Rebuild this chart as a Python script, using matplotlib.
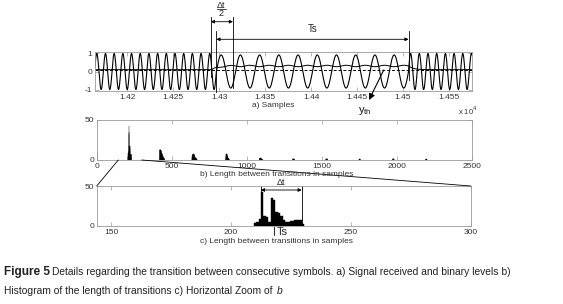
import numpy as np
import matplotlib
matplotlib.use('Agg')
import matplotlib.pyplot as plt
from matplotlib.lines import Line2D
from matplotlib.patches import ConnectionPatch
from matplotlib.transforms import blended_transform_factory
import matplotlib.ticker as mticker

W, H, DPI = 563, 304, 100
plt.rcParams['font.family'] = ['Liberation Sans', 'DejaVu Sans']

# ---------------- data ----------------
# a) received FSK signal: segments (start sample, end sample, period in samples, amplitude)
seg_start = [14165, 14297, 14506]
seg_end = [14297, 14506, 14580]
seg_period = [9.45, 20.9, 9.45]
seg_amp = [0.98, 0.9, 0.98]
# binary level curve
level_low = 0.10
level_high = 0.30
level_ripple = 0.04
level_rise_start = 14292
rise_tau = 6.0
fall_tau = 5.0
y_th = 0.10
a_xlim = [14165, 14575]
a_xticks = [14200, 14250, 14300, 14350, 14400, 14450, 14500, 14550]
a_xticklabels = ['1.42', '1.425', '1.43', '1.435', '1.44', '1.445', '1.45', '1.455']
a_yticks = [-1, 0, 1]
ts_marks = [14297, 14506]
dt_half_marks = [14291, 14315]

# c) zoomed histogram: lengths 210..230
c_lengths = [210, 211, 212, 213, 214, 215, 216, 217, 218, 219, 220,
             221, 222, 223, 224, 225, 226, 227, 228, 229, 230]
c_counts = [4, 5, 9, 43, 12, 11, 5, 35, 32, 18, 16,
            12, 8, 5, 5, 6, 6, 7, 7, 8, 3]
c_xticks = [150, 200, 250, 300]
c_xlim = [144, 300]
c_dt = [212.5, 229.5]
c_ts = 218

# b) full histogram groups (first sample, counts per sample)
b_grp0_start, b_grp0 = 1, [9, 5, 2]
b_grp2_start, b_grp2 = 420, [3, 12, 14, 13, 13, 12, 12, 11, 11, 10, 10, 9, 9, 8, 8, 7,
                             7, 6, 6, 5, 5, 4, 4, 3, 3, 3, 2, 2, 2, 1, 1]
b_grp3_start, b_grp3 = 638, [2, 5, 6, 6, 7, 7, 8, 8, 7, 7, 6, 6, 5, 5, 4, 4, 4, 3, 3, 3,
                             2, 2, 2, 2, 1, 1, 1, 1]
b_grp4_start, b_grp4 = 862, [2, 4, 6, 7, 7, 6, 6, 5, 5, 4, 4, 3, 3, 2, 2, 2, 1, 1, 1, 1]
b_grp5_start, b_grp5 = 1086, [1, 2, 2, 3, 3, 2, 2, 2, 2, 1, 1, 1, 1, 1, 1, 1, 1, 1]
b_grp6_start, b_grp6 = 1308, [1, 1, 2, 1, 1, 1, 1, 1, 1, 1]
b_grp7_start, b_grp7 = 1530, [1, 1, 1, 2, 1, 1, 1, 1]
b_grp8_start, b_grp8 = 1752, [1, 1, 1, 1]
b_grp9_start, b_grp9 = 1975, [1, 1, 2, 1, 1, 1]
b_grp10_start, b_grp10 = 2195, [1, 1, 1, 1, 1]
b_xticks = [0, 500, 1000, 1500, 2000, 2500]

# ---------------- figure ----------------
fig = plt.figure(figsize=(W / DPI, H / DPI), dpi=DPI)

def rect(l, t, r, b):
    return [l / W, 1 - b / H, (r - l) / W, (b - t) / H]

def fy(y):
    return 1 - y / H

ax_a = fig.add_axes(rect(95, 52, 472, 91))
ax_b = fig.add_axes(rect(96.7, 120, 471.7, 160))
ax_c = fig.add_axes(rect(96.7, 186, 470.7, 226))

SP = '#9a9a9a'
for ax in (ax_a, ax_b, ax_c):
    for s in ax.spines.values():
        s.set_color(SP)
        s.set_linewidth(0.6)
    ax.tick_params(direction='in', top=True, right=True, length=3, width=0.5,
                   color=SP, labelsize=6, labelcolor='#333333', pad=2)

# ---- a) signal ----
dt = 0.2
t = np.arange(a_xlim[0], a_xlim[1] + dt, dt)
freq = np.zeros_like(t)
amp = np.zeros_like(t)
for s, e, p, a in zip(seg_start, seg_end, seg_period, seg_amp):
    m = (t >= s) & (t < e + dt)
    freq[m] = 1.0 / p
    amp[m] = a
phase = 2 * np.pi * np.cumsum(freq) * dt
phase -= phase[np.argmin(np.abs(t - seg_start[1]))]
signal = amp * np.sin(phase)

t1, t2 = level_rise_start, seg_start[2]
level = np.full_like(t, level_low)
m = (t >= t1) & (t < t2)
g = 1 - np.exp(-(t[m] - t1) / rise_tau)
level[m] = level_low + g * (level_high - level_low - level_ripple * np.sin(phase[m]))
lv2 = level[m][-1]
m2 = t >= t2
level[m2] = level_low + (lv2 - level_low) * np.exp(-(t[m2] - t2) / fall_tau)

ax_a.plot(t, signal, color='k', lw=0.8)
ax_a.plot(t, level, color='k', lw=0.7)
ax_a.axhline(y_th, color='k', lw=0.7, ls=(0, (3, 2)))
ax_a.set_xlim(a_xlim)
ax_a.set_ylim(-1.06, 1.06)
ax_a.set_xticks(a_xticks)
ax_a.set_xticklabels(a_xticklabels)
ax_a.set_yticks(a_yticks)
ax_a.set_yticklabels(['-1', '0', '1'])

bt = blended_transform_factory(ax_a.transData, fig.transFigure)
LW = 0.6
fig.add_artist(Line2D([dt_half_marks[0]] * 2, [fy(17), fy(77)], transform=bt, color='k', lw=LW))
fig.add_artist(Line2D([dt_half_marks[1]] * 2, [fy(17), fy(88)], transform=bt, color='k', lw=LW))
fig.add_artist(Line2D([ts_marks[0]] * 2, [fy(31), fy(92)], transform=bt, color='k', lw=LW))
fig.add_artist(Line2D([ts_marks[1]] * 2, [fy(31), fy(80)], transform=bt, color='k', lw=LW))
ax_a.annotate('', xy=(ts_marks[1], fy(39.3)), xytext=(ts_marks[0], fy(39.3)),
              xycoords=bt, textcoords=bt, annotation_clip=False,
              arrowprops=dict(arrowstyle='<|-|>', lw=LW, color='k', mutation_scale=5,
                              shrinkA=0, shrinkB=0))
ax_a.annotate('', xy=(dt_half_marks[1], fy(21.7)), xytext=(dt_half_marks[0], fy(21.7)),
              xycoords=bt, textcoords=bt, annotation_clip=False,
              arrowprops=dict(arrowstyle='<|-|>', lw=LW, color='k', mutation_scale=5,
                              shrinkA=0, shrinkB=0))
xc = (dt_half_marks[0] + dt_half_marks[1]) / 2 - 0.5
fig.text(0, fy(5), '\u0394t', transform=bt, fontsize=6.5, ha='center', va='center',
         color='#222222').set_x(xc)
fig.add_artist(Line2D([xc - 4.5, xc + 4.5], [fy(9.2), fy(9.2)], transform=bt, color='k', lw=0.5))
fig.text(0, fy(13.5), '2', transform=bt, fontsize=6.5, ha='center', va='center',
         color='#222222').set_x(xc)
fig.text(0, fy(29.3), 'Ts', transform=bt, fontsize=7, ha='center', va='center',
         color='#222222').set_x((ts_marks[0] + ts_marks[1]) / 2)
# y_th arrow
ax_a.annotate('', xy=(14463, fy(100)), xytext=(14479, fy(70)),
              xycoords=bt, textcoords=bt, annotation_clip=False,
              arrowprops=dict(arrowstyle='-|>', lw=0.8, color='k', mutation_scale=9,
                              shrinkA=0, shrinkB=0))
fig.text(365 / W, fy(111), r'$\mathregular{y_{th}}$', fontsize=8, ha='center', va='center',
         color='#111111')
fig.text(468 / W, fy(111), r'x 10$^{4}$', fontsize=5.5, ha='center', va='center',
         color='#333333')
fig.text(273 / W, fy(105.5), 'a) Samples', fontsize=6, ha='center', va='center',
         color='#333333')

# ---- b) histogram ----
b_groups = [(b_grp0_start, b_grp0), (c_lengths[0], c_counts), (b_grp2_start, b_grp2),
            (b_grp3_start, b_grp3), (b_grp4_start, b_grp4), (b_grp5_start, b_grp5),
            (b_grp6_start, b_grp6), (b_grp7_start, b_grp7), (b_grp8_start, b_grp8),
            (b_grp9_start, b_grp9), (b_grp10_start, b_grp10)]
for st, cnt in b_groups:
    xs = np.arange(st, st + len(cnt))
    ax_b.bar(xs, cnt, width=1, color='k', edgecolor='k', linewidth=0.35)
ax_b.set_xlim(0, 2500)
ax_b.set_ylim(0, 50)
ax_b.set_xticks(b_xticks)
ax_b.set_yticks([0, 50])
fig.text(276.7 / W, fy(174.5), 'b) Length between transitions in samples', fontsize=6,
         ha='center', va='center', color='#333333')

# ---- c) zoom ----
ax_c.bar(c_lengths, c_counts, width=1, color='k', edgecolor='k', linewidth=0.3)
ax_c.set_xlim(c_xlim)
ax_c.set_ylim(0, 50)
ax_c.set_xticks(c_xticks)
ax_c.set_yticks([0, 50])
ax_c.plot([c_dt[0]] * 2, [50, 10], color='k', lw=LW, clip_on=False)
ax_c.plot([c_dt[1]] * 2, [50, 0], color='k', lw=LW, clip_on=False)
ax_c.annotate('', xy=(c_dt[1], 45), xytext=(c_dt[0], 45), annotation_clip=False,
              arrowprops=dict(arrowstyle='<|-|>', lw=LW, color='k', mutation_scale=5,
                              shrinkA=0, shrinkB=0))
ax_c.text((c_dt[0] + c_dt[1]) / 2, 55, '\u0394t', fontsize=6.5, ha='center', va='center',
          color='#222222', clip_on=False)
btc = blended_transform_factory(ax_c.transData, fig.transFigure)
fig.add_artist(Line2D([c_ts, c_ts], [fy(226.5), fy(235)], transform=btc, color='k', lw=LW))
fig.text(0, fy(232), 'Ts', transform=btc, fontsize=8, ha='left', va='center',
         color='#222222').set_x(c_ts + 1.2)
fig.text(276.7 / W, fy(241.7), 'c) Length between transitions in samples', fontsize=6,
         ha='center', va='center', color='#333333')

# connectors
for xv in (c_xlim[0], c_xlim[1]):
    cp = ConnectionPatch(xyA=(xv, 0), coordsA=ax_b.transData, xyB=(xv, 50),
                         coordsB=ax_c.transData, color='k', lw=0.6)
    fig.add_artist(cp)

# ---- caption ----
r = fig.canvas.get_renderer()
cap1 = fig.text(4 / W, fy(272), 'Figure 5', fontsize=8.5, fontweight='bold', ha='left',
                va='center', color='#222222')
bb = cap1.get_window_extent(r)
fig.text((bb.x1 + 2.5) / W, fy(272),
         'Details regarding the transition between consecutive symbols. a) Signal received and binary levels b)',
         fontsize=7.4, ha='left', va='center', color='#222222')
cap2 = fig.text(4 / W, fy(291), 'Histogram of the length of transitions c) Horizontal Zoom of ',
                fontsize=7.4, ha='left', va='center', color='#222222')
bb2 = cap2.get_window_extent(r)
fig.text((bb2.x1 + 1) / W, fy(291), 'b', fontsize=7.4, style='italic', ha='left',
         va='center', color='#222222')

fig.savefig('out.png', dpi=DPI)
